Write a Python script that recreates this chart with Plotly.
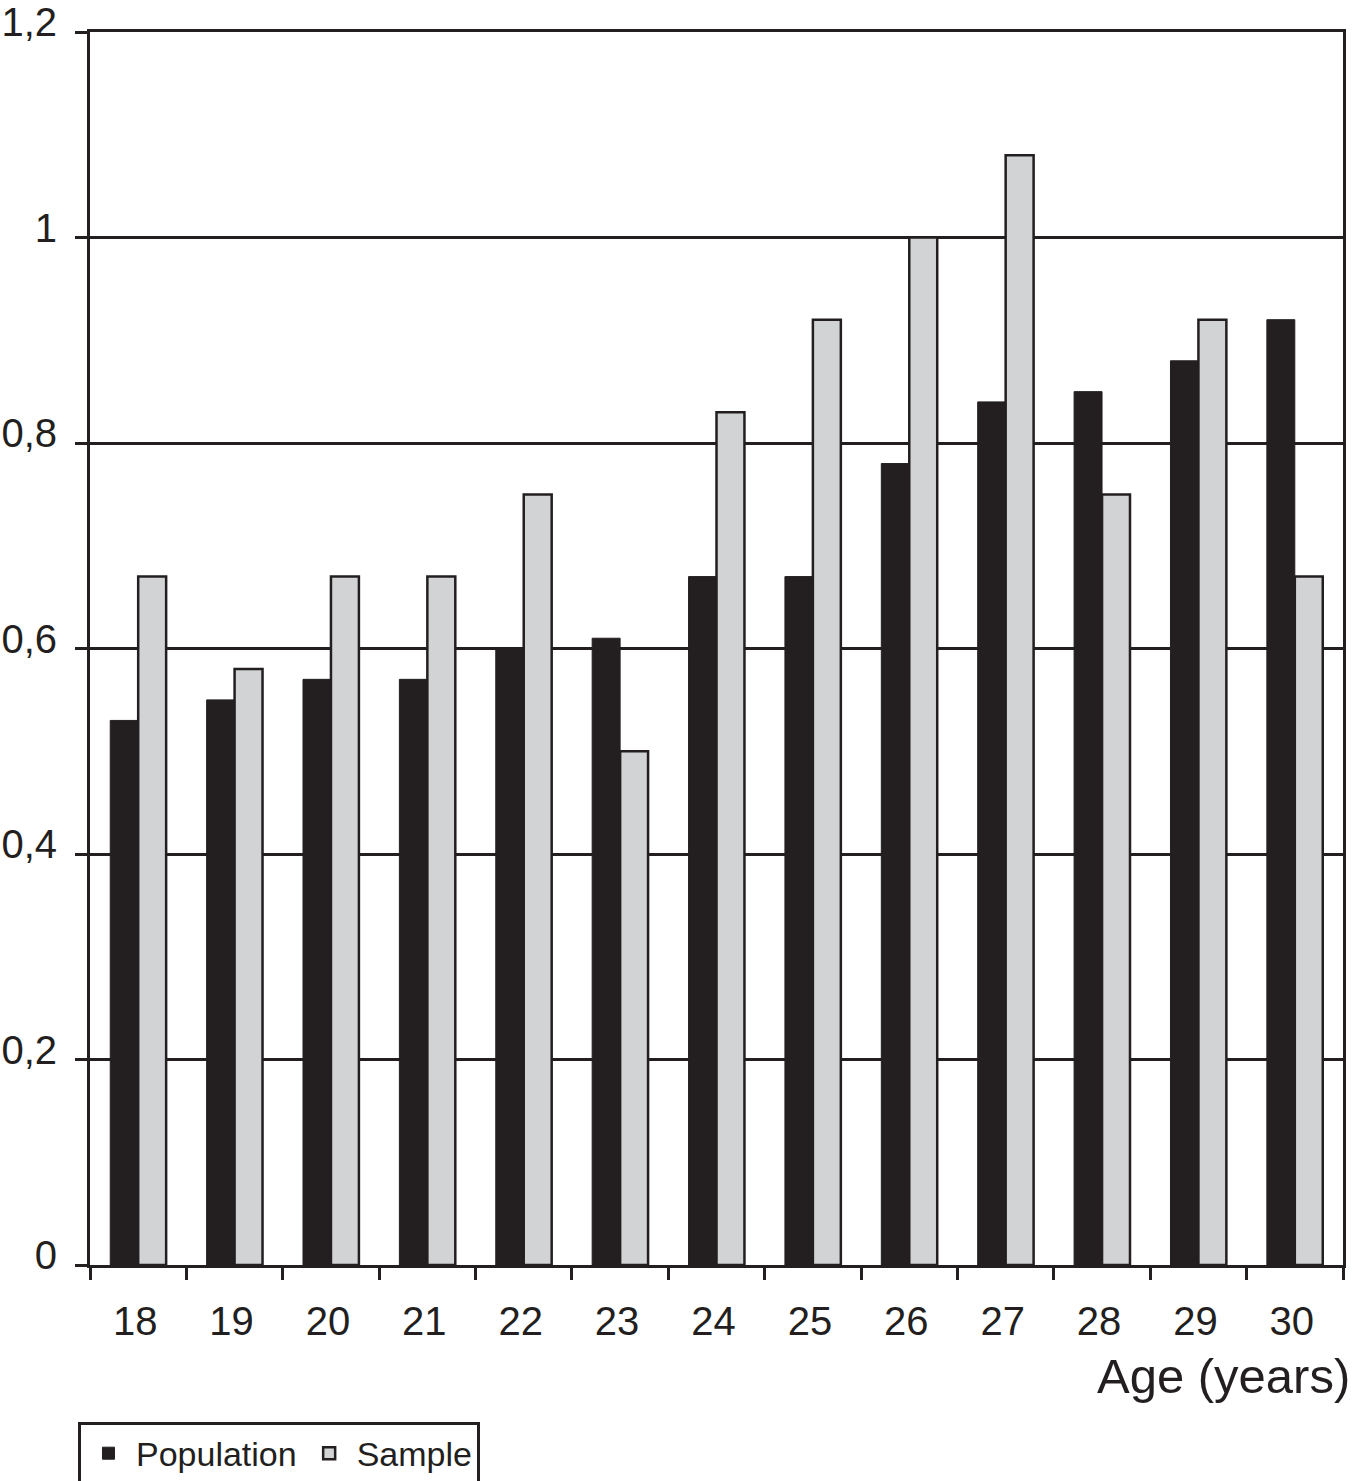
import plotly.graph_objects as go

ages = ["18", "19", "20", "21", "22", "23", "24", "25", "26", "27", "28", "29", "30"]
population = [0.53, 0.55, 0.57, 0.57, 0.60, 0.61, 0.67, 0.67, 0.78, 0.84, 0.85, 0.88, 0.92]
sample = [0.67, 0.58, 0.67, 0.67, 0.75, 0.50, 0.83, 0.92, 1.00, 1.08, 0.75, 0.92, 0.67]
y_tickvals = [0, 0.2, 0.4, 0.6, 0.8, 1.0, 1.2]
y_ticktext = ["0", "0,2", "0,4", "0,6", "0,8", "1", "1,2"]

FONT = "Liberation Sans, Arial, Helvetica, sans-serif"
INK = "#231f20"

fig = go.Figure()
fig.add_trace(go.Bar(
    x=ages, y=population, name="Population",
    marker=dict(color=INK, line=dict(color=INK, width=1)),
))
fig.add_trace(go.Bar(
    x=ages, y=sample, name="Sample",
    marker=dict(color="#d1d3d4", line=dict(color=INK, width=2.5)),
))

fig.update_layout(
    width=1356, height=1481,
    margin=dict(l=90, r=13, t=32, b=216, autoexpand=False),
    paper_bgcolor="white", plot_bgcolor="white",
    barmode="group", bargap=0.42, bargroupgap=0,
    font=dict(family=FONT, color=INK, size=36),
    showlegend=True,
    legend=dict(
        orientation="h", x=-0.0096, xanchor="left", y=-0.127, yanchor="top",
        bordercolor=INK, borderwidth=3, bgcolor="white",
        font=dict(size=34, color=INK), itemwidth=45, traceorder="normal",
    ),
    xaxis=dict(
        type="category", showline=True, linecolor=INK, linewidth=3, mirror=True,
        ticks="outside", tickson="boundaries", ticklen=12, tickwidth=3, tickcolor=INK,
        tickfont=dict(size=40, color=INK), ticklabelstandoff=19, ticklabelshift=-3,
        showgrid=False, zeroline=False, automargin=False,
    ),
    yaxis=dict(
        range=[0, 1.2], showline=True, linecolor=INK, linewidth=3, mirror=True,
        tickvals=y_tickvals, ticktext=y_ticktext,
        ticks="outside", ticklen=12, tickwidth=3, tickcolor=INK,
        tickfont=dict(size=40, color=INK), ticklabelstandoff=10, ticklabelshift=-10,
        showgrid=True, gridcolor=INK, gridwidth=2.5, zeroline=False, automargin=False,
    ),
    annotations=[dict(
        text="Age (years)", xref="paper", yref="paper",
        x=1.007, y=-0.09, xanchor="right", yanchor="middle",
        showarrow=False, font=dict(size=49, color=INK, family=FONT),
    )],
)

fig.write_html("out.html", config={"displayModeBar": False})

with open("out.html", "r", encoding="utf-8") as f:
    html = f.read()
html = html.replace("<head>", "<head><style>html,body{margin:0;padding:0;}</style>", 1)
with open("out.html", "w", encoding="utf-8") as f:
    f.write(html)
